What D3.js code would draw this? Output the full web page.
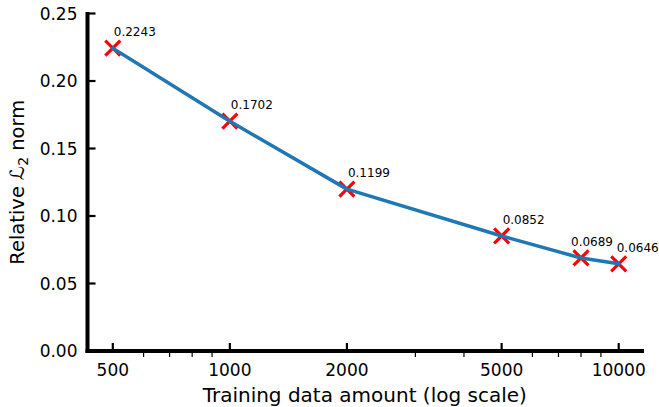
<!DOCTYPE html>
<html>
<head>
<meta charset="utf-8">
<script src="https://cdn.jsdelivr.net/npm/d3@7"></script>
<style>
  html, body { margin: 0; padding: 0; background: #fff; }
  svg { display: block; font-family: "DejaVu Sans", sans-serif; }
</style>
</head>
<body>
<svg id="chart" width="659" height="407"></svg>
<script>
// Training set sizes and the relative L2 error measured at each
const trainSizes = [500, 1000, 2000, 5000, 8000, 10000];
const relL2 = [0.2243, 0.1702, 0.1199, 0.0852, 0.0689, 0.0646];
const xTickValues = [500, 1000, 2000, 5000, 10000];
const xMinorTicks = [600, 700, 800, 900, 3000, 4000, 6000, 7000, 8000, 9000];
const yTickValues = [0, 0.05, 0.10, 0.15, 0.20, 0.25];
// horizontal nudges so the crowded labels on the right stay apart
const labelNudge = [0, 0, 0, 0, -11, -3];

const svg = d3.select("#chart");
const plotLeft = 87.5, plotRight = 644, plotTop = 13.5, plotBottom = 351;

// log axis padded by 5% of the decades on each side
const lo = Math.log10(500), hi = Math.log10(10000), pad = (hi - lo) * 0.05;
const x = d3.scaleLog().domain([10 ** (lo - pad), 10 ** (hi + pad)]).range([plotLeft, plotRight]);
const y = d3.scaleLinear().domain([0, 0.25]).range([plotBottom, plotTop]);

// minor ticks on x, pointing outward
svg.append("g").selectAll("line").data(xMinorTicks).join("line")
  .attr("x1", d => x(d)).attr("x2", d => x(d))
  .attr("y1", plotBottom + 2).attr("y2", plotBottom + 6)
  .attr("stroke", "#000").attr("stroke-width", 1.2);

// major ticks, pointing inward
svg.append("g").selectAll("line").data(xTickValues).join("line")
  .attr("x1", d => x(d)).attr("x2", d => x(d))
  .attr("y1", plotBottom).attr("y2", plotBottom - 8)
  .attr("stroke", "#000").attr("stroke-width", 2.2);
svg.append("g").selectAll("line").data(yTickValues).join("line")
  .attr("x1", plotLeft).attr("x2", plotLeft + 8)
  .attr("y1", d => y(d)).attr("y2", d => y(d))
  .attr("stroke", "#000").attr("stroke-width", 2.2);

// spines
svg.append("line").attr("x1", plotLeft).attr("x2", plotLeft).attr("y1", plotTop - 1.5).attr("y2", plotBottom + 2)
  .attr("stroke", "#000").attr("stroke-width", 4);
svg.append("line").attr("x1", plotLeft - 2).attr("x2", plotRight).attr("y1", plotBottom).attr("y2", plotBottom)
  .attr("stroke", "#000").attr("stroke-width", 4);

// tick labels
svg.append("g").selectAll("text").data(xTickValues).join("text")
  .attr("x", d => x(d)).attr("y", plotBottom + 25)
  .attr("text-anchor", "middle").attr("font-size", 17).attr("fill", "#000")
  .text(d => d);
svg.append("g").selectAll("text").data(yTickValues).join("text")
  .attr("x", plotLeft - 10).attr("y", d => y(d)).attr("dy", "0.36em")
  .attr("text-anchor", "end").attr("font-size", 17).attr("fill", "#000")
  .text(d => d.toFixed(2));

// axis titles
svg.append("text").attr("x", (plotLeft + plotRight) / 2 - 1).attr("y", 402)
  .attr("text-anchor", "middle").attr("font-size", 20).attr("fill", "#000")
  .text("Training data amount (log scale)");
const yl = svg.append("text")
  .attr("transform", `translate(24,${(plotTop + plotBottom) / 2}) rotate(-90)`)
  .attr("text-anchor", "middle").attr("font-size", 19.5).attr("fill", "#000");
yl.append("tspan").text("Relative ");
yl.append("tspan").attr("font-style", "italic").text("\u2112");
yl.append("tspan").attr("font-size", 14).attr("dy", 4).text("2");
yl.append("tspan").attr("dy", -4).text(" norm");

// cross markers
const pts = trainSizes.map((s, i) => ({ s, v: relL2[i], nudge: labelNudge[i] }));
const h = 7.5;
const marks = svg.append("g").selectAll("g").data(pts).join("g")
  .attr("transform", d => `translate(${x(d.s)},${y(d.v)})`);
marks.append("path")
  .attr("d", `M${-h},${-h}L${h},${h}M${-h},${h}L${h},${-h}`)
  .attr("stroke", "#ff0000").attr("stroke-width", 3.2).attr("fill", "none");

// error curve
svg.append("path").datum(pts)
  .attr("d", d3.line().x(d => x(d.s)).y(d => y(d.v)))
  .attr("fill", "none").attr("stroke", "#1f77b4").attr("stroke-width", 3.5)
  .attr("stroke-linejoin", "round").attr("stroke-linecap", "square");

// value annotations
svg.append("g").selectAll("text").data(pts).join("text")
  .attr("x", d => x(d.s) + 1 + d.nudge).attr("y", d => y(d.v) - 12)
  .attr("font-size", 12).attr("fill", "#000")
  .text(d => d.v.toFixed(4));
</script>
</body>
</html>
